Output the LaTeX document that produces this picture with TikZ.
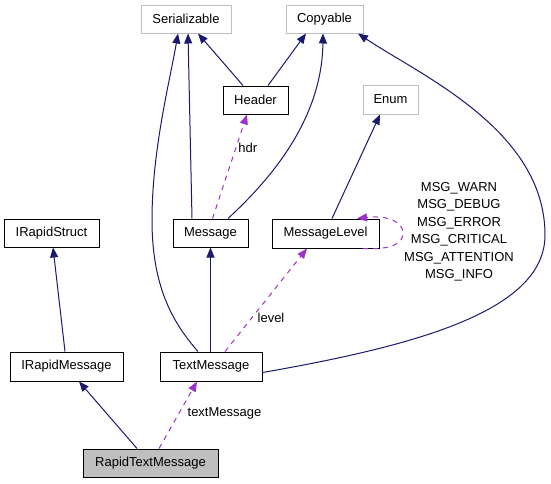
\documentclass[tikz,border=0pt]{standalone}
\usepackage{fontspec}
\setmainfont{Liberation Sans}
\usetikzlibrary{arrows.meta}
\definecolor{edgeblue}{HTML}{191970}
\definecolor{dashpurple}{HTML}{9A32CD}
\definecolor{grayborder}{HTML}{BFBFBF}
\definecolor{grayfill}{HTML}{BFBFBF}
\tikzset{
  cls/.style={draw=black, line width=1pt, minimum height=28pt, inner sep=0pt, font=\fontsize{13}{15}\selectfont, fill=white},
  ext/.style={cls, draw=grayborder},
  inh/.style={draw=edgeblue, line width=1pt, -{Triangle[length=10pt,width=8pt]}},
  use/.style={draw=dashpurple, line width=1pt, dash pattern=on 5pt off 5pt, -{Triangle[length=10pt,width=8pt]}, dashpurple},
  lbl/.style={font=\fontsize{13}{15}\selectfont, inner sep=0pt}
}
\begin{document}
\begin{tikzpicture}[x=1pt,y=-1pt]
\useasboundingbox (0,0) rectangle (551,483);
% nodes
\node[ext, minimum width=90pt] (ser) at (186,19) {Serializable};
\node[ext, minimum width=77pt] (cop) at (324.5,19) {Copyable};
\node[cls, minimum width=65pt] (hdr) at (255.5,100) {Header};
\node[ext, minimum width=55pt, minimum height=29pt] (enum) at (390.5,99.5) {Enum};
\node[cls, minimum width=95pt] (irs) at (51.5,233) {IRapidStruct};
\node[cls, minimum width=75pt] (msg) at (210.5,233) {Message};
\node[cls, minimum width=107pt, minimum height=29pt] (ml) at (325.5,233.5) {MessageLevel};
\node[cls, minimum width=113pt, minimum height=29pt] (irm) at (66.5,366.5) {IRapidMessage};
\node[cls, minimum width=102pt, minimum height=29pt] (tm) at (211,366.5) {TextMessage};
\node[cls, minimum width=135pt, fill=grayfill] (rtm) at (150.5,463) {RapidTextMessage};
% inheritance edges
\draw[inh] ([xshift=-12.5pt]hdr.north) -- ([xshift=12pt]ser.south);
\draw[inh] ([xshift=12.5pt]hdr.north) -- ([xshift=-18.5pt]cop.south);
\draw[inh] ([xshift=-18.5pt]msg.north) -- ([xshift=2pt]ser.south);
\draw[inh] ([xshift=-13pt]tm.north) .. controls (175,325) and (152,290) .. (152,220) .. controls (152,150) and (170,80) .. ([xshift=-8pt]ser.south);
\draw[inh] ([xshift=17.5pt]msg.north) .. controls (262,187) and (322,125) .. ([xshift=-1.5pt]cop.south);
\draw[inh] ([yshift=-6pt]tm.east) .. controls (420,345) and (545,310) .. (545,235) .. controls (545,130) and (420,75) .. ([xshift=33.5pt]cop.south);
\draw[inh] ([xshift=6.5pt]ml.north) -- ([xshift=-10.5pt]enum.south);
\draw[inh] ([xshift=-0.5pt]tm.north) -- (msg.south);
\draw[inh] ([xshift=-1.5pt]irm.north) -- ([xshift=1.5pt]irs.south);
\draw[inh] ([xshift=-13.5pt]rtm.north) -- ([xshift=12.5pt]irm.south);
% usage edges
\draw[use] ([xshift=2pt]msg.north) -- node[lbl, text=black, pos=0.68, right=2pt] {hdr} ([xshift=-8.5pt]hdr.south);
\draw[use] ([xshift=14pt]tm.north) -- ([xshift=-18.5pt]ml.south);
\node[lbl] (lvl) at (271,318) {level};
\draw[use] ([xshift=37.5pt]ml.south) .. controls (393,250) and (403,243) .. (403,233) .. controls (403,222) and (388,215) .. ([xshift=31.5pt]ml.north);
\draw[use] ([xshift=8.5pt]rtm.north) -- ([xshift=-14pt]tm.south);
\node[lbl] (tmlbl) at (224.5,413) {textMessage};
\node[lbl, align=center, font=\fontsize{13}{17.5}\selectfont] (vals) at (459,231.5) {MSG\_WARN\\MSG\_DEBUG\\MSG\_ERROR\\MSG\_CRITICAL\\MSG\_ATTENTION\\MSG\_INFO};
\end{tikzpicture}
\end{document}
